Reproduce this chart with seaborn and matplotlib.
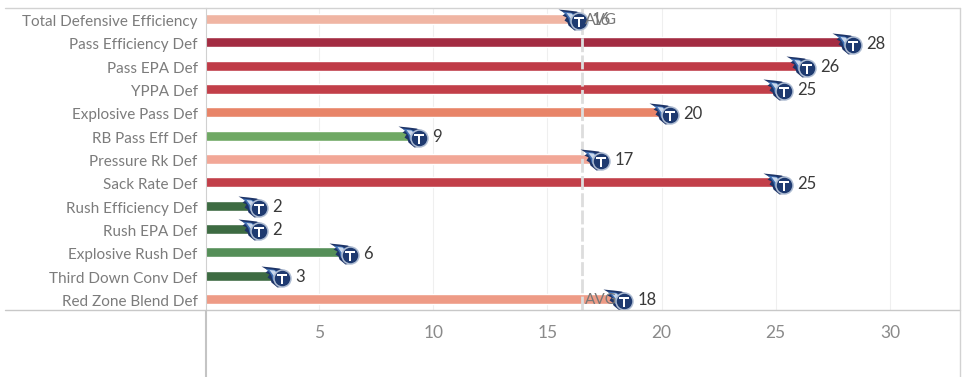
import seaborn as sns
import matplotlib.pyplot as plt
import pandas as pd
from matplotlib.path import Path
from matplotlib.transforms import ScaledTranslation

metrics = ['Total Defensive Efficiency', 'Pass Efficiency Def', 'Pass EPA Def', 'YPPA Def',
           'Explosive Pass Def', 'RB Pass Eff Def', 'Pressure Rk Def', 'Sack Rate Def',
           'Rush Efficiency Def', 'Rush EPA Def', 'Explosive Rush Def', 'Third Down Conv Def',
           'Red Zone Blend Def']
ranks = [16, 28, 26, 25, 20, 9, 17, 25, 2, 2, 6, 3, 18]
bar_colors = ['#f0b5a3', '#a32c42', '#bf3b47', '#c23f49', '#e88468', '#6fa864', '#f2a797',
              '#c23f49', '#3d6b42', '#3d6b42', '#558f58', '#3d6b42', '#ee9b86']
avg = 16.5
xticks = [5, 10, 15, 20, 25, 30]

df = pd.DataFrame({'metric': metrics, 'rank': ranks})

sns.set_theme(style='white')
plt.rcParams['font.family'] = ['Lato', 'DejaVu Sans']

fig = plt.figure(figsize=(9.68, 3.77), dpi=100)
ax = fig.add_axes([206 / 968, 1 - 310 / 377, 754 / 968, 302 / 377])

sns.barplot(data=df, y='metric', x='rank', hue='metric', palette=bar_colors, legend=False,
            width=0.44, saturation=1, ax=ax, zorder=2)

ax.set_xlim(0.05, 33.07)
ax.set_ylim(12.47, -0.47)
ax.set_xlabel('')
ax.set_ylabel('')
ax.set_xticks(xticks)
ax.tick_params(axis='x', length=0, pad=11, labelsize=12.5, labelcolor='#8a8a8a')
ax.tick_params(axis='y', length=0, pad=6, labelsize=11, labelcolor='#7c7c7c')
ax.grid(axis='x', color='#efefef', linewidth=0.8, zorder=0)
ax.set_axisbelow(True)
for s in ['top', 'right', 'bottom']:
    ax.spines[s].set_visible(False)
ax.spines['left'].set_color('#d0d0d0')
ax.spines['left'].set_linewidth(0.8)

# y labels sit a little under the bars in the original
down = ScaledTranslation(0, -1 / 72, fig.dpi_scale_trans)
for lab in ax.get_yticklabels():
    lab.set_transform(lab.get_transform() + down)

# reference line
ax.axvline(avg, color='#dddddd', linewidth=2, linestyle=(0, (5, 1.2)), zorder=3)

# logo layers, path units are pixels around the helmet centre, all scaled from the tail size
def px_size(extent):
    return (extent * 2 * 0.72) ** 2

flame = Path([(-21, 12), (-11, 11), (-3, 10), (5, 7), (8, 0), (3, -8), (-5, -9),
              (-11, -4), (-12, -1), (-15, 1), (-13, 4), (-17, 6), (-14, 8), (-21, 12)])
flame_mid = Path([(-17, 10), (-9, 9), (-2, 6), (0, -6), (-6, -6), (-10, -1), (-11, 3), (-13, 6), (-17, 10)])
streak = Path([(-13, 8.5), (-8, 8), (-5, 5), (-7, 2), (-8, -2), (-9, 3), (-13, 8.5)])
t_mark = Path([(-5, 4.5), (5, 4.5), (5, 2.2), (1.4, 2.2), (1.4, -5.5), (-1.4, -5.5), (-1.4, 2.2),
               (-5, 2.2), (-5, 4.5)])

logo_x = [r + 0.37 for r in ranks]
logo_y = [i + 0.1 for i in range(len(ranks))]
ax.scatter(logo_x, logo_y, marker=flame, s=px_size(21), color='#1d3468', linewidths=0, zorder=4)
ax.scatter(logo_x, logo_y, marker=flame_mid, s=px_size(17), color='#3d6cb0', linewidths=0, zorder=4)
ax.scatter(logo_x, logo_y, marker=streak, s=px_size(13), color='#c9d8ec', linewidths=0, zorder=4)
ax.scatter(logo_x, logo_y, s=(8.5 * 2 * 0.72) ** 2, color='#1e3a70', edgecolor='#aebcd2',
           linewidths=1.1, zorder=5)
ax.scatter(logo_x, logo_y, marker=t_mark, s=px_size(5.5), color='white', linewidths=0, zorder=6)

# value labels
value_colors = ['#777777' if r == 16 else '#3a3a3a' for r in ranks]
for i, r in enumerate(ranks):
    ax.text(r + 0.95, i + 0.06, str(r), color=value_colors[i], fontsize=12, va='center', ha='left', zorder=6)

# AVG labels for the two rows next to the line
for row in [0, 12]:
    ax.text(avg + 0.16, row + 0.06, 'AVG', color='#777777', fontsize=11, va='center', ha='left', zorder=7)

# frame lines around the panes
line_color = '#d2d2d2'
fig.add_artist(plt.Line2D([5 / 968, 960 / 968], [1 - 7.5 / 377, 1 - 7.5 / 377], color=line_color, linewidth=1))
fig.add_artist(plt.Line2D([5 / 968, 960 / 968], [1 - 310 / 377, 1 - 310 / 377], color='#c8c8c8', linewidth=1))
fig.add_artist(plt.Line2D([206 / 968, 206 / 968], [0, 1 - 311 / 377], color='#c4c4c4', linewidth=1.5))
fig.add_artist(plt.Line2D([959.5 / 968, 959.5 / 968], [0, 1 - 7.5 / 377], color=line_color, linewidth=1))

fig.savefig('out.png', dpi=100)
